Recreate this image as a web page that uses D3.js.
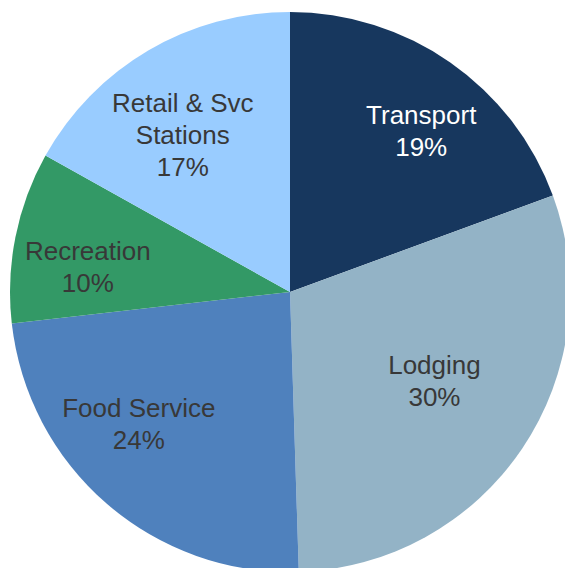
<!DOCTYPE html>
<html>
<head>
<meta charset="utf-8">
<script src="https://cdn.jsdelivr.net/npm/d3@7"></script>
<style>
  html, body { margin: 0; padding: 0; background: #fff; }
  svg { display: block; }
</style>
</head>
<body>
<svg width="565" height="568"></svg>
<script>
  // DATA

  var categories = ["Transport", "Lodging", "Food Service", "Recreation", "Retail & Svc Stations"],
    shares = [19.4, 30.1, 23.7, 9.9, 16.9],
    labelLines = [["Transport"], ["Lodging"], ["Food Service"], ["Recreation"], ["Retail & Svc", "Stations"]];

  // STYLE / LAYOUT

  var colors = ["#17375E", "#93B3C6", "#4F81BD", "#339966", "#99CCFF"],
    textColors = ["#ffffff", "#383838", "#383838", "#383838", "#383838"],
    labelNudge = [[19, -1], [-18, -21], [-23, -17], [-10, 13], [-8, 12]];

  var svg = d3.select("svg"),
    cx = 290, cy = 292, radius = 280,
    fontSize = 26, lineHeight = 32;

  var pie = d3.pie()
    .sort(null)
    .value(function (d) { return d; });

  var arc = d3.arc()
    .innerRadius(0)
    .outerRadius(radius);

  var labelArc = d3.arc()
    .innerRadius(radius * 0.7)
    .outerRadius(radius * 0.7);

  var g = svg.append("g")
    .attr("transform", "translate(" + cx + "," + cy + ")");

  var arcs = pie(shares);

  g.selectAll(".slice")
    .data(arcs)
    .enter().append("path")
    .attr("class", "slice")
    .attr("d", arc)
    .attr("fill", function (d, i) { return colors[i]; });

  var labels = g.selectAll(".label")
    .data(arcs)
    .enter().append("text")
    .attr("class", "label")
    .attr("text-anchor", "middle")
    .attr("font-family", "'Liberation Sans', Arial, sans-serif")
    .attr("font-size", fontSize)
    .attr("fill", function (d, i) { return textColors[i]; })
    .attr("transform", function (d, i) {
      var c = labelArc.centroid(d);
      return "translate(" + (c[0] + labelNudge[i][0]) + "," + (c[1] + labelNudge[i][1]) + ")";
    });

  labels.each(function (d, i) {
    var lines = labelLines[i].concat([Math.round(shares[i]) + "%"]),
      n = lines.length,
      top = -(n - 1) * lineHeight / 2 + fontSize * 0.36;
    d3.select(this).selectAll("tspan")
      .data(lines)
      .enter().append("tspan")
      .attr("x", 0)
      .attr("y", function (t, j) { return top + j * lineHeight; })
      .text(function (t) { return t; });
  });
</script>
</body>
</html>
